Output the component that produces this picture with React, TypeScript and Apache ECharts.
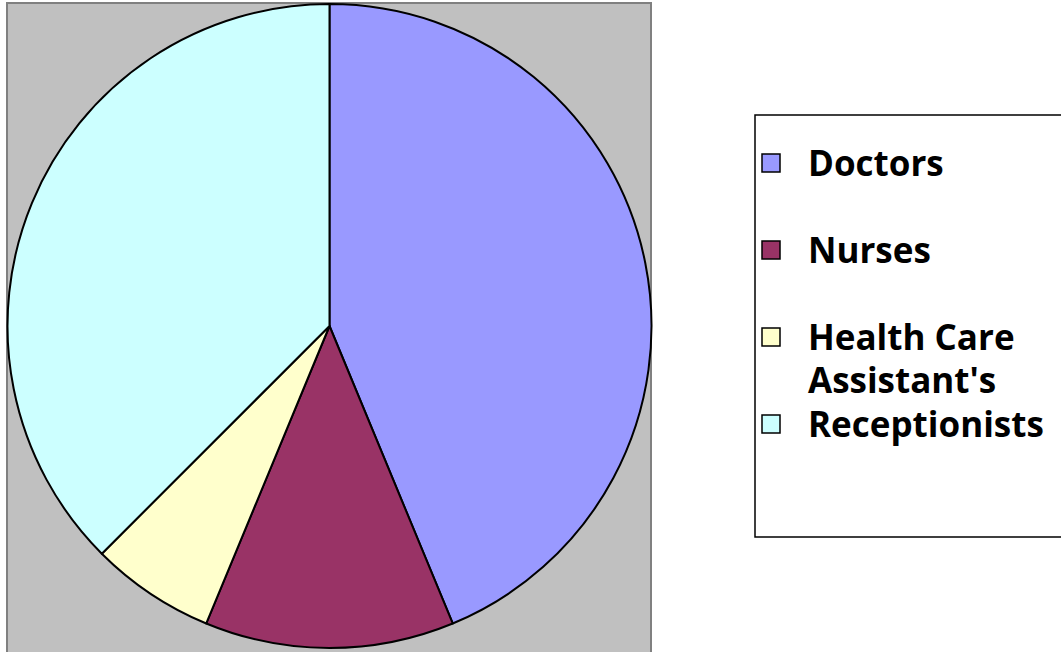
import React, { useEffect, useRef } from "react";
import * as echarts from "echarts";

const categories = ["Doctors", "Nurses", "Health Care Assistant's", "Receptionists"];
const legendLabels = ["Doctors", "Nurses", "Health Care\nAssistant's", "Receptionists"];
const values = [7, 2, 1, 6];
const colors = ["#9999FF", "#993366", "#FFFFCC", "#CCFFFF"];

export default function App() {
  const ref = useRef<HTMLDivElement>(null);
  useEffect(() => {
    document.body.style.margin = "0";
    const chart = echarts.init(ref.current!, null, { renderer: "svg" });
    const slotTop = 141;
    const slotStep = 87;
    const legendGraphics: any[] = [];
    categories.forEach((c, i) => {
      const y = slotTop + i * slotStep;
      legendGraphics.push({
        type: "rect",
        shape: { x: 762, y: y + 13, width: 18, height: 18 },
        style: { fill: colors[i], stroke: "#000", lineWidth: 1.5 },
        z: 10,
      });
      legendGraphics.push({
        type: "text",
        x: 808,
        y: y,
        style: {
          text: legendLabels[i],
          fill: "#000",
          font: "bold 35px 'Open Sans', Lato, sans-serif",
          lineHeight: 43,
          textVerticalAlign: "top",
        },
        z: 10,
      });
    });
    chart.setOption({
      animation: false,
      graphic: [
        {
          type: "rect",
          shape: { x: 7, y: 3, width: 644, height: 650 },
          style: { fill: "#C0C0C0", stroke: "#808080", lineWidth: 2 },
          z: 0,
        },
        {
          type: "rect",
          shape: { x: 755, y: 115, width: 400, height: 422 },
          style: { fill: "#FFFFFF", stroke: "#000", lineWidth: 1.5 },
          z: 1,
        },
        ...legendGraphics,
      ],
      series: [
        {
          type: "pie",
          z: 5,
          center: [329.5, 326],
          radius: 322,
          startAngle: 90,
          clockwise: true,
          label: { show: false },
          labelLine: { show: false },
          silent: true,
          itemStyle: { borderColor: "#000", borderWidth: 2 },
          data: categories.map((c, i) => ({
            name: c,
            value: values[i],
            itemStyle: { color: colors[i] },
          })),
        },
      ],
    });
    return () => chart.dispose();
  }, []);
  return <div ref={ref} style={{ width: 1061, height: 652 }} />;
}
